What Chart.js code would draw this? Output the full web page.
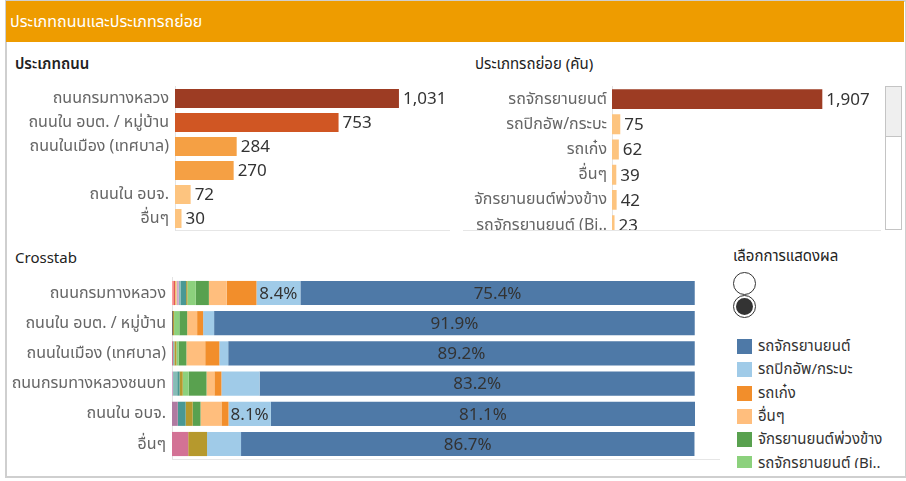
<!DOCTYPE html>
<html>
<head>
<meta charset="utf-8">
<script src="https://cdn.jsdelivr.net/npm/chart.js@4.4.1/dist/chart.umd.min.js"></script>
<style>
  body { margin: 0; width: 906px; height: 481px; background: #fff; position: relative; overflow: hidden;
         font-family: 'Noto Sans', 'Noto Sans Thai', sans-serif; color: #333; }
  .frame { position: absolute; left: 5px; top: 0; width: 898px; height: 474px; border: 2px solid #cfcfcf; }
  .header { position: absolute; left: 6px; top: 1px; width: 898px; height: 41px; background: #ee9c00; }
  .header span { position: absolute; left: 4px; top: 9px; color: #fff; font-size: 16px; }
  .title { position: absolute; font-size: 15px; color: #222; }
  .hline { position: absolute; height: 1px; background: #e6e6e6; }
  .clip { position: absolute; overflow: hidden; }
  canvas { position: absolute; }
  .scroll { position: absolute; left: 885px; top: 86px; width: 17px; height: 144px; border: 1px solid #c4c4c4; box-sizing: border-box; background: #fff; }
  .thumb { position: absolute; left: 0; top: 0; width: 15px; height: 49px; background: #efefef; border-bottom: 1px solid #c4c4c4; }
  .radio { position: absolute; left: 733px; width: 23px; height: 23px; border: 1px solid #333; border-radius: 50%; background: #fff; box-sizing: border-box; }
  .radio.on::after { content: ''; position: absolute; left: 2px; top: 2px; width: 17px; height: 17px; border-radius: 50%; background: #333; }
  .legend { position: absolute; left: 737px; top: 335px; width: 168px; height: 133px; overflow: hidden; }
  .legend div { height: 23.3px; display: flex; align-items: center; font-size: 15px; color: #333; white-space: nowrap; }
  .legend i { display: inline-block; width: 15px; height: 15px; margin-right: 6px; flex: none; }
</style>
</head>
<body>
<div class="frame"></div>
<div class="header"><span>ประเภทถนนและประเภทรถย่อย</span></div>

<div class="title" style="left:15px;top:53px;font-weight:600">ประเภทถนน</div>
<div class="title" style="left:475px;top:53px">ประเภทรถย่อย (คัน)</div>
<div class="title" style="left:15px;top:247px">Crosstab</div>
<div class="title" style="left:733px;top:245px">เลือกการแสดงผล</div>

<canvas id="roadChart" width="445" height="155" style="left:5px;top:80px"></canvas>
<div class="clip" style="left:455px;top:80px;width:430px;height:150px">
  <canvas id="vehicleChart" width="430" height="162" style="left:0;top:0"></canvas>
</div>
<div class="hline" style="left:176px;top:230px;width:274px"></div>
<div class="hline" style="left:463px;top:230px;width:418px"></div>
<div class="scroll"><div class="thumb"></div></div>

<canvas id="crossChart" width="720" height="195" style="left:5px;top:270px"></canvas>
<div class="hline" style="left:172px;top:459px;width:548px"></div>

<div class="radio" style="top:272px"></div>
<div class="radio on" style="top:295px"></div>
<div class="legend" id="legend"></div>

<script>
Chart.defaults.font.family = "'Noto Sans', 'Noto Sans Thai', sans-serif";
Chart.defaults.animation = false;

// --- data ---
const roadTypes = ['ถนนกรมทางหลวง', 'ถนนใน อบต. / หมู่บ้าน', 'ถนนในเมือง (เทศบาล)', '', 'ถนนใน อบจ.', 'อื่นๆ'];
const roadCounts = [1031, 753, 284, 270, 72, 30];
const roadColors = ['#9d3c23', '#d05623', '#f5a044', '#f5a044', '#fdc47f', '#fdc47f'];

const vehicleTypes = ['รถจักรยานยนต์', 'รถปิกอัพ/กระบะ', 'รถเก๋ง', 'อื่นๆ', 'จักรยานยนต์พ่วงข้าง', 'รถจักรยานยนต์ (Bi..'];
const vehicleCounts = [1907, 75, 62, 39, 42, 23];
const vehicleBarColors = ['#9d3c23', '#fdc47f', '#fdc47f', '#fdc47f', '#fdc47f', '#fdc47f'];

const crossRoads = ['ถนนกรมทางหลวง', 'ถนนใน อบต. / หมู่บ้าน', 'ถนนในเมือง (เทศบาล)', 'ถนนกรมทางหลวงชนบท', 'ถนนใน อบจ.', 'อื่นๆ'];
// vehicle groups in the crosstab, largest first (only the first six are visible in the legend)
const crossVehicles = ['รถจักรยานยนต์', 'รถปิกอัพ/กระบะ', 'รถเก๋ง', 'อื่นๆ', 'จักรยานยนต์พ่วงข้าง', 'รถจักรยานยนต์ (Bi..',
  'รถตู้', 'รถบรรทุก 6 ล้อ', 'รถบรรทุก 10 ล้อ', 'รถสามล้อ', 'รถจักรยาน', 'คนเดินเท้า', 'รถโดยสาร', 'รถพ่วง', 'รถอีแต๋น', 'ไม่ทราบ'];
const crossColors = ['#4e79a7', '#a0cbe8', '#f28e2b', '#ffbe7d', '#59a14f', '#8cd17d',
  '#b6992d', '#499894', '#86bcb6', '#d4a6c8', '#b07aa1', '#d37295', '#79706e', '#f1ce63', '#e15759', '#ff9d9a'];
// percent share per vehicle group, one value per road type
const sharePct = [
  [75.4, 91.9, 89.2, 83.2, 81.1, 86.7],
  [8.4, 2.1, 1.7, 7.3, 8.1, 6.5],
  [5.7, 1.15, 2.7, 1.35, 1.35, 0],
  [3.4, 1.9, 3.6, 1.5, 4.0, 0],
  [2.5, 1.5, 1.5, 3.4, 1.5, 0],
  [1.6, 1.0, 0.4, 1.15, 0, 0],
  [0.25, 0.2, 0.4, 0.6, 1.35, 3.6],
  [1.0, 0, 0, 0.45, 1.5, 0],
  [0.4, 0, 0.25, 0.8, 0, 0],
  [0.45, 0, 0, 0.2, 0, 0],
  [0, 0, 0, 0, 1.1, 0],
  [0, 0, 0.2, 0, 0, 3.1],
  [0, 0.2, 0, 0, 0, 0],
  [0.25, 0, 0, 0, 0, 0],
  [0.35, 0, 0, 0, 0, 0],
  [0.25, 0, 0, 0, 0, 0],
];

// --- label plugins ---
const valueLabels = {
  id: 'valueLabels',
  afterDatasetsDraw(chart) {
    const ctx = chart.ctx;
    ctx.save();
    ctx.font = "17px 'Noto Sans', 'Noto Sans Thai', sans-serif";
    ctx.fillStyle = '#333';
    ctx.textAlign = 'left';
    ctx.textBaseline = 'middle';
    const ds = chart.data.datasets[0];
    chart.getDatasetMeta(0).data.forEach((el, i) => {
      ctx.fillText(ds.data[i].toLocaleString('en-US'), el.x + 4, el.y + 1);
    });
    ctx.restore();
  },
};

const pctLabels = {
  id: 'pctLabels',
  afterDatasetsDraw(chart) {
    const ctx = chart.ctx;
    ctx.save();
    ctx.font = "17px 'Noto Sans', 'Noto Sans Thai', sans-serif";
    ctx.fillStyle = '#333';
    ctx.textAlign = 'center';
    ctx.textBaseline = 'middle';
    chart.data.datasets.forEach((ds, di) => {
      chart.getDatasetMeta(di).data.forEach((el, i) => {
        const w = Math.abs(el.x - el.base);
        if (w >= 40) ctx.fillText(ds.data[i].toFixed(1) + '%', (el.x + el.base) / 2, el.y + 1);
      });
    });
    ctx.restore();
  },
};

function yAxis(width, pad) {
  return {
    grid: { display: false, drawTicks: false },
    border: { display: true, color: '#e3e3e3' },
    ticks: { color: '#666', padding: pad, font: { size: 16 } },
    afterFit: (scale) => {
      scale.width = width;
      scale.paddingTop = 0;
      scale.paddingBottom = 0;
    },
  };
}

// --- ประเภทถนน ---
new Chart(document.getElementById('roadChart'), {
  type: 'bar',
  data: {
    labels: roadTypes,
    datasets: [{ data: roadCounts, backgroundColor: roadColors, barPercentage: 0.79, categoryPercentage: 1 }],
  },
  options: {
    indexAxis: 'y',
    responsive: false,
    layout: { padding: { top: 6.5, bottom: 4.5, left: 0, right: 5 } },
    plugins: { legend: { display: false }, tooltip: { enabled: false } },
    scales: {
      x: { display: false, min: 0, max: 1243 },
      y: yAxis(170, 6),
    },
  },
  plugins: [valueLabels],
});

// --- ประเภทรถย่อย ---
new Chart(document.getElementById('vehicleChart'), {
  type: 'bar',
  data: {
    labels: vehicleTypes,
    datasets: [{ data: vehicleCounts, backgroundColor: vehicleBarColors, barPercentage: 0.79, categoryPercentage: 1 }],
  },
  options: {
    indexAxis: 'y',
    responsive: false,
    layout: { padding: { top: 6.5, bottom: 4.3, left: 0, right: 5 } },
    plugins: { legend: { display: false }, tooltip: { enabled: false } },
    scales: {
      x: { display: false, min: 0, max: 2430 },
      y: yAxis(157, 5),
    },
  },
  plugins: [valueLabels],
});

// --- Crosstab ---
const crossDatasets = crossVehicles.map((name, i) => ({
  label: name,
  data: sharePct[i],
  backgroundColor: crossColors[i],
  borderWidth: 0,
  barPercentage: 0.8,
  categoryPercentage: 1,
})).reverse();

new Chart(document.getElementById('crossChart'), {
  type: 'bar',
  data: { labels: crossRoads, datasets: crossDatasets },
  options: {
    indexAxis: 'y',
    responsive: false,
    layout: { padding: { top: 7.9, bottom: 5.9, left: 0, right: 30 } },
    plugins: { legend: { display: false }, tooltip: { enabled: false } },
    scales: {
      x: { display: false, stacked: true, min: 0, max: 100 },
      y: { ...yAxis(167, 6), stacked: true },
    },
  },
  plugins: [pctLabels],
});

// legend for the crosstab colours
const legendEl = document.getElementById('legend');
crossVehicles.forEach((name, i) => {
  const row = document.createElement('div');
  row.innerHTML = `<i style="background:${crossColors[i]}"></i>${name}`;
  legendEl.appendChild(row);
});
</script>
</body>
</html>
